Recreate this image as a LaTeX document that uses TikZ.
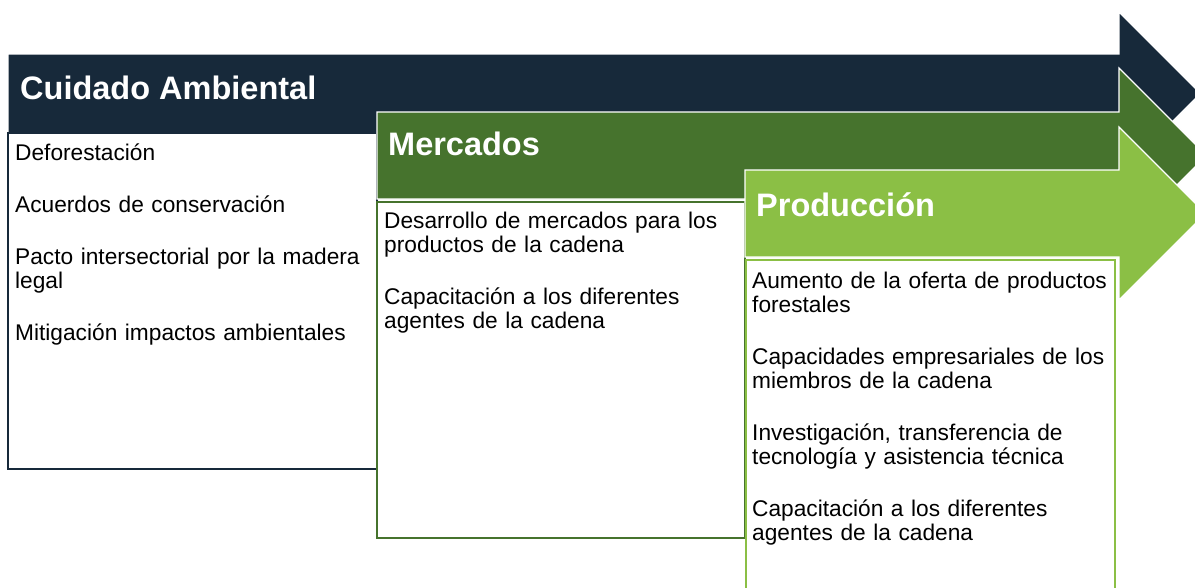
\documentclass[tikz,border=0pt]{standalone}
\usepackage{fontspec}
\setmainfont{Liberation Sans}
\usepackage{tikz}
\usepackage{xcolor}
\usetikzlibrary{positioning}
\definecolor{Navy}{HTML}{17293A}
\definecolor{Forest}{HTML}{46732D}
\definecolor{Lime}{HTML}{8BBF45}

\begin{document}
\begin{tikzpicture}[x=1pt,y=-1pt,
  band/.style={draw=white,line width=1.2pt,line join=miter},
  panelnavy/.style={draw=Navy,fill=white,line width=1.4pt},
  panelforest/.style={draw=Forest,fill=white,line width=1.8pt},
  panellime/.style={draw=Lime,fill=white,line width=1.8pt},
  heading/.style={anchor=base west,inner sep=0pt,text=white,font=\fontsize{32.5}{36}\selectfont\bfseries},
  itemtext/.style={anchor=base west,inner sep=0pt,align=left,text width=360pt,font=\fontsize{22.7}{24}\selectfont}
]
\useasboundingbox (0,0) rectangle (1195,587);
\clip (0,0) rectangle (1195,587);
% Cuidado Ambiental
\filldraw[band,fill=Navy] (8,54) -- (1119,54) -- (1119,12) -- (1200.5,93.5) -- (1119,175) -- (1119,133) -- (8,133) -- cycle;
\draw[panelnavy] (8,133) rectangle (377,469);
\node[heading] (ambiental) at (20,99) {Cuidado Ambiental};
\node[itemtext] (ambientalitems) at (15,160) {Deforestación\\[28pt]
  Acuerdos de conservación\\[28pt]
  Pacto intersectorial por la madera\\legal\\[28pt]
  Mitigación impactos ambientales};
% Mercados
\filldraw[band,fill=Forest] (377,112) -- (1119,112) -- (1119,68) -- (1206.5,155.5) -- (1119,243) -- (1119,199) -- (377,199) -- cycle;
\draw[panelforest] (377,202) rectangle (745,538);
\node[heading] (mercados) at (388,155) {Mercados};
\node[itemtext] (mercadositems) at (384,228) {Desarrollo de mercados para los\\productos de la cadena\\[28pt]
  Capacitación a los diferentes\\agentes de la cadena};
% Produccion
\filldraw[band,fill=Lime] (745,170) -- (1119,170) -- (1119,127) -- (1205.5,213.5) -- (1119,300) -- (1119,257) -- (745,257) -- cycle;
\draw[panellime] (746,260) rectangle (1115,600);
\node[heading] (produccion) at (756,216) {Producción};
\node[itemtext] (produccionitems) at (752,288) {Aumento de la oferta de productos\\forestales\\[28pt]
  Capacidades empresariales de los\\miembros de la cadena\\[28pt]
  Investigación, transferencia de\\tecnología y asistencia técnica\\[28pt]
  Capacitación a los diferentes\\agentes de la cadena};
\end{tikzpicture}
\end{document}
